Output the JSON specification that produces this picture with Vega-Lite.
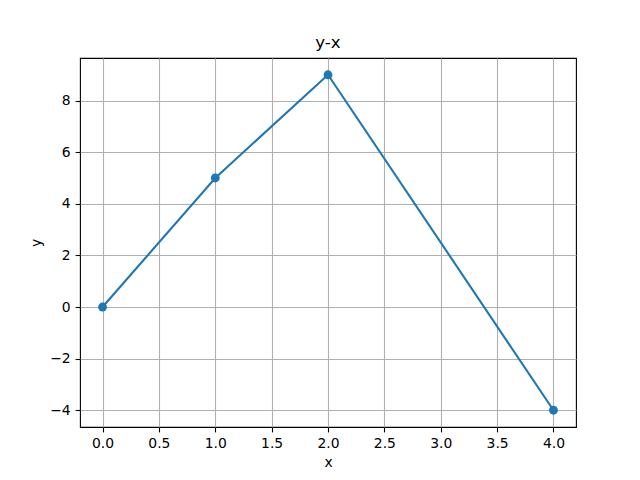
{
  "$schema": "https://vega.github.io/schema/vega-lite/v6.json",
  "autosize": "none",
  "padding": {"left": 80, "top": 58, "right": 64, "bottom": 53},
  "width": 496,
  "height": 369,
  "background": "white",
  "title": {"text": "y-x", "font": "DejaVu Sans", "fontSize": 16.7, "fontWeight": "normal", "color": "black", "offset": 6},
  "config": {
    "view": {"stroke": "black", "strokeWidth": 1.1},
    "axis": {
      "labelFont": "DejaVu Sans", "labelFontSize": 13.9, "labelColor": "black",
      "titleFont": "DejaVu Sans", "titleFontSize": 13.9, "titleFontWeight": "normal", "titleColor": "black",
      "domain": false, "ticks": true, "tickColor": "black", "tickSize": 4.9, "tickWidth": 1.1,
      "labelPadding": 4.9, "grid": true, "gridColor": "#b0b0b0", "gridWidth": 1.1
    }
  },
  "data": {
    "values": [
      {"x": 0, "y": 0},
      {"x": 1, "y": 5},
      {"x": 2, "y": 9},
      {"x": 4, "y": -4}
    ]
  },
  "encoding": {
    "x": {"field": "x", "type": "quantitative", "title": "x",
      "scale": {"domain": [-0.2, 4.2], "nice": false, "zero": false},
      "axis": {"values": [0, 0.5, 1, 1.5, 2, 2.5, 3, 3.5, 4], "format": ".1f", "titlePadding": 5}},
    "y": {"field": "y", "type": "quantitative", "title": "y",
      "scale": {"domain": [-4.65, 9.65], "nice": false, "zero": false},
      "axis": {"values": [-4, -2, 0, 2, 4, 6, 8], "format": "d", "titlePadding": 6}}
  },
  "layer": [
    {"mark": {"type": "line", "color": "#1f77b4", "strokeWidth": 2.1}},
    {"mark": {"type": "point", "filled": true, "color": "#1f77b4", "opacity": 1, "size": 78}}
  ]
}
